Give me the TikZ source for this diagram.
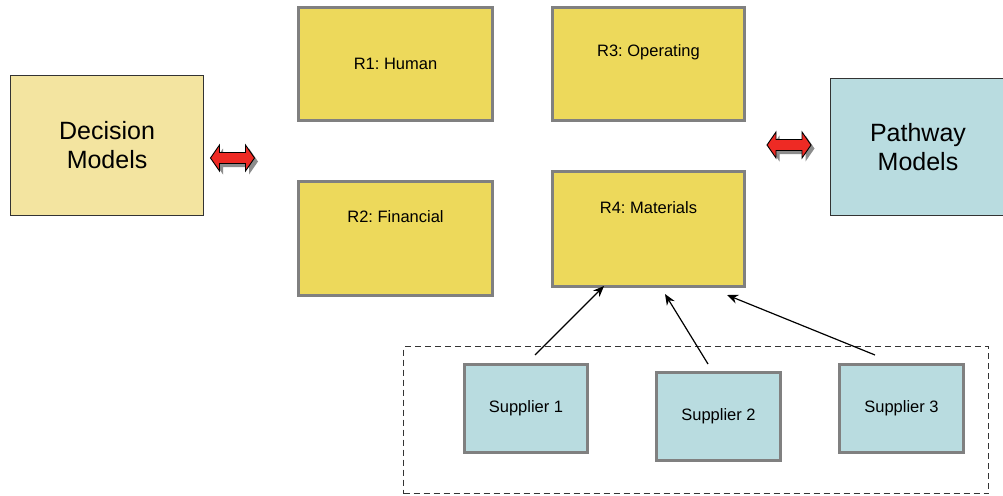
\documentclass[tikz,border=0pt]{standalone}
\usepackage{fontspec}
\setmainfont{Liberation Sans}
\usetikzlibrary{arrows.meta,calc}
\frenchspacing
\definecolor{ryellow}{HTML}{EDD95B}
\definecolor{dyellow}{HTML}{F3E4A0}
\definecolor{lblue}{HTML}{B9DCE0}
\definecolor{bgray}{HTML}{808080}
\definecolor{arrred}{HTML}{EE2A24}
\tikzset{
  rbox/.style={draw=bgray, line width=3pt, fill=ryellow, anchor=north west, inner sep=0pt},
  sbox/.style={draw=bgray, line width=3pt, fill=lblue, anchor=north west, inner sep=0pt},
  bigbox/.style={draw=black!80, line width=1.1pt, anchor=north west, inner sep=0pt},
  bigtxt/.style={font=\fontsize{25}{29}\selectfont, align=center},
  smtxt/.style={font=\fontsize{16.5}{19}\selectfont\frenchspacing},
  conn/.style={line width=1.2pt, -{Stealth[length=11pt,width=9pt]}},
  dbl/.style={fill=arrred, draw=black, line width=0.9pt},
  dblshadow/.style={fill=black!45, draw=none},
}
\newcommand{\dblarrow}[3]{% center x, center y, style
  \path[#3] ($(#1,#2)+(-22,0)$) -- ++(9,13) -- ++(0,-7.5) -- ++(26,0) -- ++(0,7.5) -- ++(9,-13) -- ++(-9,-13) -- ++(0,7.5) -- ++(-26,0) -- ++(0,-7.5) -- cycle;
}
\begin{document}
\begin{tikzpicture}[x=1pt,y=1pt]
\clip (0,0) rectangle (1003,-495);
\useasboundingbox (0,0) rectangle (1003,-495);
\fill[white] (0,0) rectangle (1003,-495);

% big boxes
\node[bigbox, fill=dyellow, minimum width=193pt, minimum height=140pt] (dec) at (10,-75) {};
\node[bigtxt] (dect) at (dec.center) {Decision\\Models};
\node[bigbox, fill=lblue, minimum width=185pt, minimum height=137pt] (path) at (830,-78) {};
\node[bigtxt] (patht) at ($(path.west)+(88,0)$) {Pathway\\Models};

% resource boxes
\node[rbox, minimum width=194pt, minimum height=113pt] (r1) at (297,-6) {};
\node[smtxt] (r1t) at (r1.center) {R1: Human};
\node[rbox, minimum width=192pt, minimum height=113pt] (r3) at (551,-6) {};
\node[smtxt] (r3t) at ($(r3.north)+(0,-46)$) {R3: Operating};
\node[rbox, minimum width=194pt, minimum height=114pt] (r2) at (297,-180) {};
\node[smtxt] (r2t) at ($(r2.north)+(0,-37)$) {R2: Financial};
\node[rbox, minimum width=192pt, minimum height=115pt] (r4) at (551,-170) {};
\node[smtxt] (r4t) at ($(r4.north)+(0,-38)$) {R4: Materials};

% supplier group
\node[draw=black!80, dashed, dash pattern=on 6pt off 4pt, line width=1.2pt, anchor=north west, minimum width=585pt, minimum height=147pt, inner sep=0pt] (grp) at (403,-346) {};
\node[sbox, minimum width=123pt, minimum height=88pt] (s1) at (463,-363) {};
\node[smtxt] (s1t) at (s1.center) {Supplier 1};
\node[sbox, minimum width=124pt, minimum height=88pt] (s2) at (655,-371) {};
\node[smtxt] (s2t) at (s2.center) {Supplier 2};
\node[sbox, minimum width=124pt, minimum height=88pt] (s3) at (838,-363) {};
\node[smtxt] (s3t) at (s3.center) {Supplier 3};

% connectors
\coordinate (a1s) at (535,-355);
\coordinate (a1e) at (604,-286);
\coordinate (a2s) at (708,-364);
\coordinate (a2e) at (665,-294);
\coordinate (a3s) at (875,-355);
\coordinate (a3e) at (727,-295);
\draw[conn] (a1s) -- (a1e);
\draw[conn] (a2s) -- (a2e);
\draw[conn] (a3s) -- (a3e);

% double arrows
\dblarrow{234.5}{-160}{dblshadow, shift={(1.5pt,-1.5pt)}}
\dblarrow{232.5}{-158}{dbl}
\dblarrow{791}{-147}{dblshadow, shift={(1.5pt,-1.5pt)}}
\dblarrow{789}{-145}{dbl}
\end{tikzpicture}
\end{document}
